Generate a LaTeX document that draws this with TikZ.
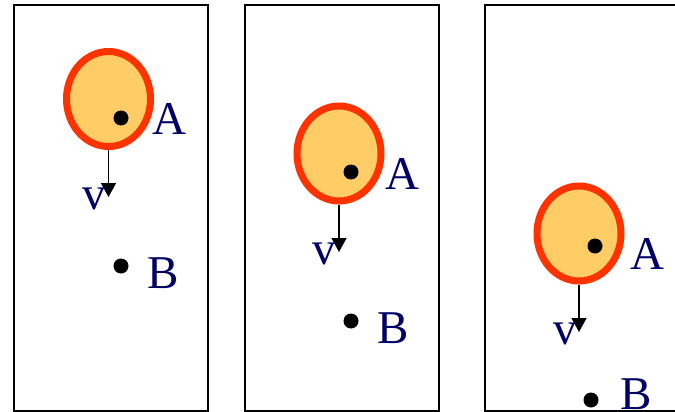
\documentclass[tikz,border=0pt]{standalone}
\usepackage{fontspec}
\setmainfont{Liberation Serif}
\usetikzlibrary{shapes.geometric,arrows.meta}
\definecolor{ballfill}{HTML}{FFCC66}
\definecolor{ballline}{HTML}{FF3300}
\definecolor{labnavy}{HTML}{000066}
\tikzset{
  frame/.style={draw=black,line width=1.5pt},
  ball/.style={ellipse,draw=ballline,fill=ballfill,line width=7pt,minimum width=84pt,minimum height=95pt,inner sep=0pt},
  dotpt/.style={circle,fill=black,minimum width=14pt,minimum height=15pt,inner sep=0pt},
  lab/.style={anchor=base west,inner sep=0pt,outer sep=0pt,text=labnavy,font=\fontsize{47}{47}\selectfont},
  vel/.style={line width=1.5pt,-{Triangle[width=15pt,length=14pt]}}
}
\begin{document}
\begin{tikzpicture}[x=1pt,y=-1pt]
\useasboundingbox (0,0) rectangle (675,412);
% frames
\draw[frame] (14,5) rectangle (208,411);
\draw[frame] (245,5) rectangle (439,411);
\draw[frame] (485,5) rectangle (700,411);
% panel 1
\node[ball] (ball1) at (108.5,99) {};
\node[dotpt] (a1) at (121,118) {};
\node[lab] (la1) at (152,134) {A};
\coordinate (tip1) at (108.5,197);
\draw[vel] (ball1.south) -- (tip1);
\node[lab] (lv1) at (82,209) {v};
\node[dotpt] (b1) at (121,266) {};
\node[lab] (lb1) at (147,288) {B};
% panel 2
\node[ball] (ball2) at (339,153.5) {};
\node[dotpt] (a2) at (351,172) {};
\node[lab] (la2) at (385,189) {A};
\coordinate (tip2) at (339,252);
\draw[vel] (ball2.south) -- (tip2);
\node[lab] (lv2) at (312,264) {v};
\node[dotpt] (b2) at (351,321) {};
\node[lab] (lb2) at (377,343) {B};
% panel 3
\node[ball] (ball3) at (579,233.5) {};
\node[dotpt] (a3) at (595,246) {};
\node[lab] (la3) at (630,269) {A};
\coordinate (tip3) at (579,332);
\draw[vel] (ball3.south) -- (tip3);
\node[lab] (lv3) at (553,344) {v};
\node[dotpt] (b3) at (591,400) {};
\node[lab] (lb3) at (620,409) {B};
\end{tikzpicture}
\end{document}
